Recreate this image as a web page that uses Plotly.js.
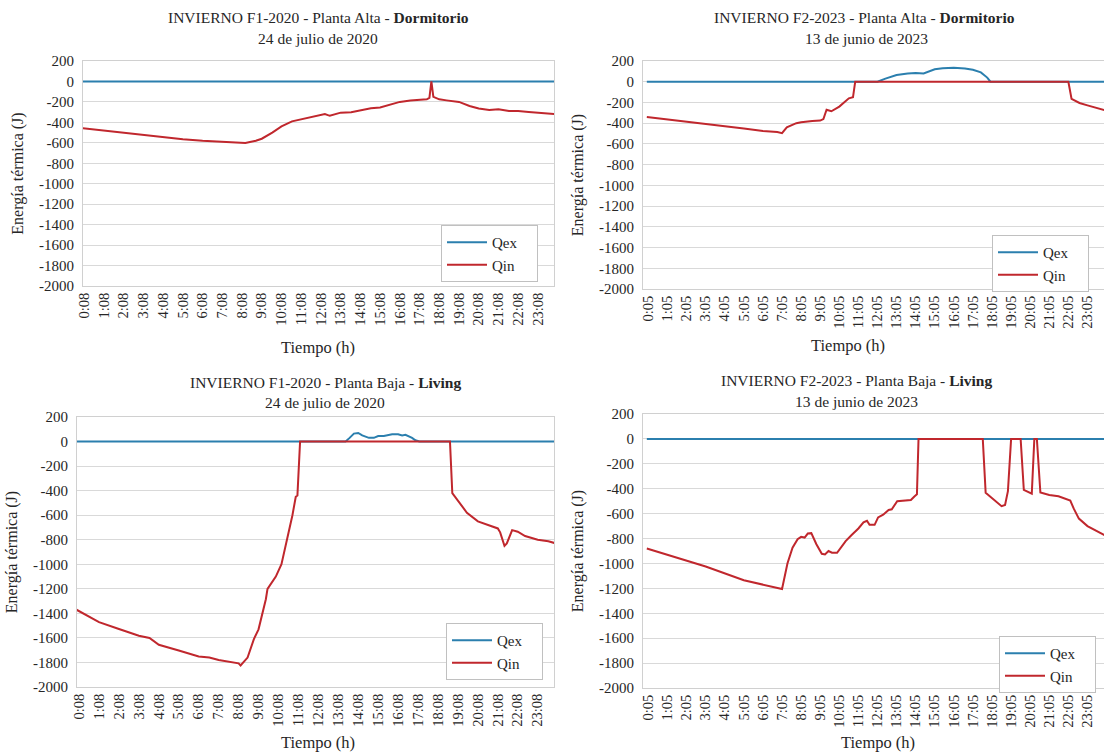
<!DOCTYPE html>
<html>
<head>
<meta charset="utf-8">
<script src="https://cdn.plot.ly/plotly-3.0.1.min.js"></script>
<style>html,body{margin:0;padding:0;background:#fff}#chart{width:1104px;height:753px}</style>
</head>
<body>
<div id="chart"></div>
<script>
// ---------- data ----------
const yTicks = [200, 0, -200, -400, -600, -800, -1000, -1200, -1400, -1600, -1800, -2000];
const xTickLabels2020 = ["0:08","1:08","2:08","3:08","4:08","5:08","6:08","7:08","8:08","9:08","10:08","11:08","12:08","13:08","14:08","15:08","16:08","17:08","18:08","19:08","20:08","21:08","22:08","23:08"];
const xTickLabels2023 = ["0:05","1:05","2:05","3:05","4:05","5:05","6:05","7:05","8:05","9:05","10:05","11:05","12:05","13:05","14:05","15:05","16:05","17:05","18:05","19:05","20:05","21:05","22:05","23:05"];

// Panel 1: INVIERNO F1-2020 - Planta Alta - Dormitorio
const p1QexTime = ["0:00","24:00"];
const p1Qex     = [0, 0];
const p1QinTime = ["0:00","1:08","2:08","3:08","4:08","5:08","6:08","7:08","8:08","8:18","8:50","9:08","9:40","10:08","10:40","11:08","11:40","12:08","12:20","12:35","13:08","13:40","14:08","14:40","15:08","15:40","16:08","16:40","17:08","17:30","17:38","17:44","17:50","17:56","18:08","18:30","19:08","19:40","20:08","20:40","21:08","21:40","22:08","22:40","23:08","24:00"];
const p1Qin     = [-455,-480,-505,-527,-548,-565,-580,-590,-598,-602,-580,-560,-500,-440,-390,-370,-352,-330,-318,-336,-305,-300,-282,-262,-255,-228,-200,-186,-180,-175,-160,0,-150,-158,-175,-185,-200,-240,-265,-280,-272,-290,-290,-298,-305,-318];

// Panel 2: INVIERNO F2-2023 - Planta Alta - Dormitorio
const p2QexTime = ["0:00","12:05","12:30","13:05","13:40","14:05","14:30","14:50","15:05","15:30","16:05","16:40","17:05","17:30","17:50","18:00","24:00"];
const p2Qex     = [0,0,30,65,80,85,80,105,120,130,135,128,115,90,40,0,0];
const p2QinTime = ["0:00","1:05","2:05","3:05","4:05","5:05","6:05","6:50","7:05","7:20","7:50","8:05","8:40","9:05","9:15","9:25","9:40","10:05","10:35","10:48","10:55","22:05","22:15","22:40","23:05","23:40","24:00"];
const p2Qin     = [-340,-365,-390,-412,-432,-452,-475,-485,-497,-440,-400,-390,-378,-375,-360,-270,-285,-240,-160,-150,0,0,-165,-205,-228,-260,-275];

// Panel 3: INVIERNO F1-2020 - Planta Baja - Living
const p3QexTime = ["0:00","13:30","13:42","13:55","14:08","14:20","14:40","14:55","15:08","15:25","15:50","16:08","16:20","16:30","16:50","17:00","17:12","24:00"];
const p3Qex     = [0,0,30,65,70,50,30,30,45,45,60,60,50,55,30,10,0,0];
const p3QinTime = ["0:00","1:08","2:08","3:08","3:40","4:08","5:08","6:08","6:40","7:08","8:08","8:14","8:35","8:54","9:08","9:30","9:35","10:00","10:17","10:34","10:50","11:00","11:05","11:13","18:44","18:51","19:08","19:35","20:08","20:40","21:08","21:15","21:28","21:35","21:51","22:08","22:30","23:08","23:40","24:00"];
const p3Qin     = [-1370,-1472,-1527,-1582,-1600,-1656,-1703,-1752,-1760,-1780,-1807,-1825,-1760,-1610,-1530,-1285,-1200,-1100,-1000,-800,-600,-450,-440,0,0,-420,-480,-580,-650,-680,-708,-740,-850,-830,-722,-735,-770,-800,-812,-828];

// Panel 4: INVIERNO F2-2023 - Planta Baja - Living
const p4QexTime = ["0:00","24:00"];
const p4Qex     = [0, 0];
const p4QinTime = ["0:00","3:05","5:05","6:05","7:05","7:22","7:38","7:54","8:05","8:16","8:26","8:37","8:53","9:10","9:20","9:31","9:42","9:58","10:14","10:25","10:43","11:05","11:21","11:32","11:40","11:56","12:07","12:23","12:40","12:50","13:07","13:28","13:50","14:01","14:09","14:14","17:36","17:45","18:07","18:25","18:35","18:46","18:55","19:05","19:35","19:45","20:02","20:10","20:18","20:26","20:37","21:05","21:34","22:06","22:11","22:22","22:38","23:05","23:43","24:00"];
const p4Qin     = [-880,-1025,-1135,-1170,-1205,-1000,-873,-805,-786,-792,-760,-757,-846,-922,-927,-900,-914,-914,-860,-820,-773,-719,-670,-657,-690,-690,-630,-608,-570,-565,-500,-495,-490,-462,-445,0,0,-432,-480,-520,-540,-530,-420,0,0,-410,-430,-440,0,0,-430,-450,-460,-490,-495,-560,-640,-700,-750,-775];

// ---------- helpers ----------
function hrs(s){ const p = s.split(":"); return (+p[0]) + (+p[1])/60; }
const blue = "#2b7fae", red = "#c0272d";
const FONT = "\"Liberation Serif\", \"Times New Roman\", Times, serif";
const txt = "#262626";
const NB = "\u00a0\u00a0\u00a0\u00a0";

function tr(times, vals, name, color, ax, legend){
  return {x: times.map(hrs), y: vals, type:"scatter", mode:"lines", name:name + NB,
          line:{color:color, width:2}, xaxis:"x"+ax, yaxis:"y"+ax, legend:legend,
          hoverinfo:"x+y"};
}
const data = [
  tr(p1QexTime,p1Qex,"Qex",blue,"", "legend"),  tr(p1QinTime,p1Qin,"Qin",red,"", "legend"),
  tr(p2QexTime,p2Qex,"Qex",blue,"2","legend2"), tr(p2QinTime,p2Qin,"Qin",red,"2","legend2"),
  tr(p3QexTime,p3Qex,"Qex",blue,"3","legend3"), tr(p3QinTime,p3Qin,"Qin",red,"3","legend3"),
  tr(p4QexTime,p4Qex,"Qex",blue,"4","legend4"), tr(p4QinTime,p4Qin,"Qin",red,"4","legend4")
];
data[0].xaxis="x"; data[0].yaxis="y"; data[1].xaxis="x"; data[1].yaxis="y";

const W = 1104, H = 753;
function px(x){return x/W;} function py(y){return 1-y/H;}

function xax(x0,x1,range,labels,anchor){
  return {domain:[px(x0),px(x1)], range:range, anchor:anchor,
    tickmode:"array", tickvals:labels.map(hrs), ticktext:labels, tickangle:-90,
    showgrid:false, zeroline:false, ticks:"", showline:true, mirror:true, linecolor:"#d0d0d0", linewidth:1,
    tickfont:{family:FONT,size:14.5,color:txt}, fixedrange:true};
}
function yax(y0,y1,anchor){
  return {domain:[py(y1),py(y0)], range:[-2000,200], anchor:anchor,
    tickmode:"array", tickvals:yTicks, ticktext:yTicks.map(String),
    showgrid:true, gridcolor:"#d9d9d9", gridwidth:1, zeroline:false, ticks:"",
    showline:true, mirror:true, linecolor:"#d0d0d0", linewidth:1, ticklabelstandoff:5,
    tickfont:{family:FONT,size:15,color:txt},
    title:{text:"Energía térmica (J)", font:{family:FONT,size:16,color:txt}, standoff:11}, fixedrange:true};
}
function leg(x,y){
  return {x:px(x), y:py(y), xanchor:"left", yanchor:"top", bgcolor:"#ffffff",
    bordercolor:"#c0c0c0", borderwidth:1, font:{family:FONT,size:15,color:txt},
    tracegroupgap:0, itemwidth:40};
}
function ann(text,x,y,size){
  return {text:text, x:px(x), y:py(y), xref:"paper", yref:"paper", showarrow:false,
    xanchor:"center", yanchor:"middle", font:{family:FONT,size:size||15.5,color:txt}};
}

const layout = {
  width:W, height:H, margin:{l:0,r:0,t:0,b:0}, paper_bgcolor:"#fff", plot_bgcolor:"#fff",
  xaxis:  xax(83,554,[0.07,23.95],xTickLabels2020,"y"),
  yaxis:  yax(61,286,"x"),
  xaxis2: xax(643,1104,[-0.2,23.95],xTickLabels2023,"y2"),
  yaxis2: yax(61,289,"x2"),
  xaxis3: xax(77,554,[0.03,23.95],xTickLabels2020,"y3"),
  yaxis3: yax(417,687,"x3"),
  xaxis4: xax(643,1104,[-0.2,23.95],xTickLabels2023,"y4"),
  yaxis4: yax(414,688,"x4"),
  legend:  leg(441,225),
  legend2: leg(992,235),
  legend3: leg(446,623),
  legend4: leg(999,636),
  annotations:[
    ann("INVIERNO F1-2020 - Planta Alta - <b>Dormitorio</b>",318,18),
    ann("24 de julio de 2020",318,39),
    ann("INVIERNO F2-2023 - Planta Alta - <b>Dormitorio</b>",864,18),
    ann("13 de junio de 2023",866,39),
    ann("INVIERNO F1-2020 - Planta Baja - <b>Living</b>",325,382),
    ann("24 de julio de 2020",325,402),
    ann("INVIERNO F2-2023 - Planta Baja - <b>Living</b>",856,380),
    ann("13 de junio de 2023",856,401),
    ann("Tiempo (h)",318,347,16.5),
    ann("Tiempo (h)",848,345,16.5),
    ann("Tiempo (h)",318,742,16.5),
    ann("Tiempo (h)",878,742,16.5)
  ],
  showlegend:true
};
Plotly.newPlot("chart", data, layout, {displayModeBar:false, staticPlot:true});
</script>
</body>
</html>
